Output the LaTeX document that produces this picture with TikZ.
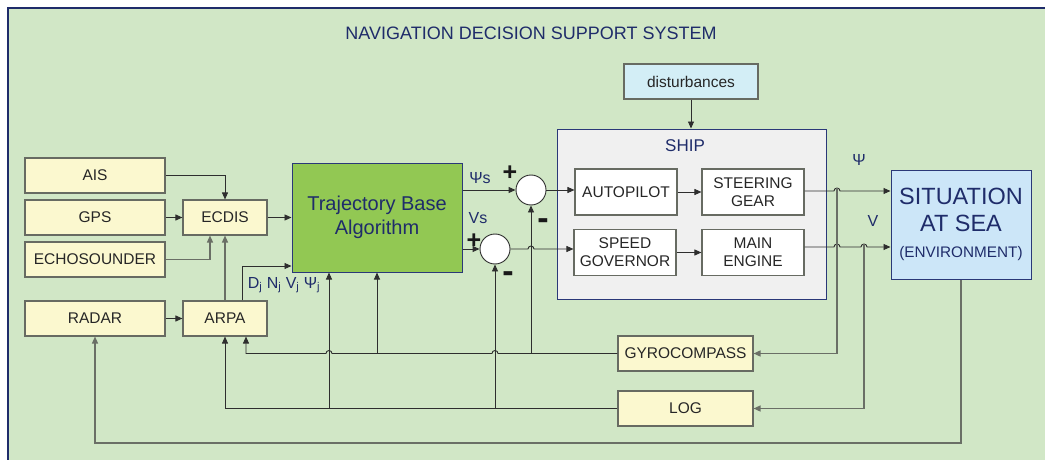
\documentclass[tikz,border=0pt]{standalone}
\usepackage{fontspec}
\setmainfont{Liberation Sans}
\usetikzlibrary{arrows.meta,calc}
\definecolor{bg}{HTML}{D1E7C6}
\definecolor{navy}{HTML}{1F2C6A}
\definecolor{navyline}{HTML}{2A3878}
\definecolor{yfill}{HTML}{FBF8CF}
\definecolor{gfill}{HTML}{92C853}
\definecolor{sfill}{HTML}{F0F0F0}
\definecolor{cfill}{HTML}{D3EEF6}
\definecolor{seafill}{HTML}{CCE6F8}
\definecolor{edgec}{HTML}{676B62}
\definecolor{wirec}{HTML}{2E2E2E}
\definecolor{fbc}{HTML}{6A6F66}
\begin{document}
\begin{tikzpicture}[x=1pt,y=-1pt,
  box/.style={draw=edgec,line width=1.1pt,inner sep=0pt,align=center,
    font=\fontsize{15.5}{18}\selectfont,text=black!85},
  yb/.style={box,fill=yfill},
  wb/.style={box,fill=white},
  navyedge/.style={draw=navyline,line width=1pt},
  wire/.style={draw=wirec,line width=0.9pt,-{Triangle[length=7pt,width=6pt]}},
  fb/.style={draw=fbc,line width=1.4pt,-{Triangle[length=7pt,width=6pt]}},
  lbl/.style={text=navy,inner sep=0pt,font=\fontsize{16}{18}\selectfont},
  sign/.style={text=black!90,inner sep=0pt,font=\fontsize{25}{25}\selectfont\bfseries},
  sumc/.style={circle,draw=wirec,fill=white,line width=0.9pt,minimum size=30pt,inner sep=0pt}]
\useasboundingbox (0,0) rectangle (1045,460);
\fill[white] (0,0) rectangle (1045,460);
\fill[bg] (8,8) rectangle (1045,460);
\draw[navy,line width=1.5pt] (8,460) -- (8,8) -- (1045,8);
\node[text=navy,font=\fontsize{18}{20}\selectfont] (title) at (531,33) {NAVIGATION DECISION SUPPORT SYSTEM};
% left boxes
\node[yb,minimum width=140pt,minimum height=35pt] (ais) at (95,175.5) {AIS};
\node[yb,minimum width=140pt,minimum height=35pt] (gps) at (95,217.5) {GPS};
\node[yb,minimum width=140pt,minimum height=35pt] (echo) at (95,259.5) {ECHOSOUNDER};
\node[yb,minimum width=140pt,minimum height=35pt] (radar) at (95,318.5) {RADAR};
\node[yb,minimum width=84pt,minimum height=35pt] (ecdis) at (225,217.5) {ECDIS};
\node[yb,minimum width=84pt,minimum height=35pt] (arpa) at (225,318.5) {ARPA};
\node[box,navyedge,fill=gfill,minimum width=170pt,minimum height=109pt,text=navy,
  font=\fontsize{20}{24}\selectfont] (traj) at (377,217.5) {Trajectory Base\\Algorithm};
% summing junctions
\node[sumc] (c1) at (531,190) {};
\node[sumc] (c2) at (495,249) {};
% ship
\node[navyedge,fill=sfill,minimum width=269pt,minimum height=170pt,inner sep=0pt] (ship) at (691.5,214) {};
\node[text=navy,font=\fontsize{17}{20}\selectfont,inner sep=0pt] (shipt) at (685,146) {SHIP};
\node[box,fill=cfill,minimum width=134pt,minimum height=35pt] (dist) at (691,81.5) {disturbances};
\node[wb,minimum width=102pt,minimum height=46pt] (ap) at (626,192) {AUTOPILOT};
\node[wb,minimum width=102pt,minimum height=46pt] (sgear) at (753,192) {STEERING\\GEAR};
\node[wb,minimum width=102pt,minimum height=46pt] (sg) at (625,252.5) {SPEED\\GOVERNOR};
\node[wb,minimum width=102pt,minimum height=46pt] (me) at (753,252.5) {MAIN\\ENGINE};
% situation
\node[box,navyedge,fill=seafill,minimum width=140pt,minimum height=109pt,text=navy,
  font=\fontsize{23.5}{27}\selectfont] (sit) at (961,224.5)
  {SITUATION\\AT SEA\\[-1pt]{\fontsize{15.3}{18}\selectfont (ENVIRONMENT)}};
% sensors
\node[yb,minimum width=135pt,minimum height=35pt] (gyro) at (685.5,353.5) {GYROCOMPASS};
\node[yb,minimum width=135pt,minimum height=35pt] (log) at (685.5,408.5) {LOG};
% labels
\node[lbl] (lpsis) at (480,178) {Ψs};
\node[lbl] (lvs) at (478,218) {Vs};
\node[lbl] (lpsi) at (859,160) {Ψ};
\node[lbl] (lv) at (873,221) {V};
\node[lbl] (ldn) at (284,285) {D\textsubscript{j} N\textsubscript{j} V\textsubscript{j} Ψ\textsubscript{j}};
\node[sign] (p1) at (510,173) {+};
\node[sign] (p2) at (474,241) {+};
\node[sign,font=\fontsize{34}{34}\selectfont\bfseries] (m1) at (543,224) {-};
\node[sign,font=\fontsize{34}{34}\selectfont\bfseries] (m2) at (508,277) {-};
% connectors left
\draw[wire] (ais.east) -| (ecdis.north);
\draw[wire] (gps.east) -- (ecdis.west);
\draw[fb] (echo.east) -| ([xshift=-15pt]ecdis.south);
\draw[fb] (arpa.north) -- (ecdis.south);
\draw[wire] ([xshift=17pt]arpa.north) |- (traj.west |- 0,266);
\draw[wire] (radar.east) -- (arpa.west);
\draw[wire] (ecdis.east) -- (ecdis.east -| traj.west);
\draw[wire] (traj.east |- c1) -- (c1.west);
\draw[wire] (traj.east |- c2) -- (c2.west);
\draw[wire] (c1.east) -- (c1 -| ap.west);
\draw[wire] (c2.east) -- (528,249) arc[start angle=180,end angle=0,radius=3pt] -- (c2 -| sg.west);
\draw[wire] (ap.east) -- (sgear.west);
\draw[wire] (sg.east) -- (me.west);
\draw[wire] (dist.south) -- (dist.south |- ship.north);
% outputs
\draw[wire] (sgear.east |- 0,191) -- (834,191) arc[start angle=180,end angle=0,radius=3pt]
  -- (sit.west |- 0,191);
\draw[wire] (me.east |- 0,247) -- (834,247) arc[start angle=180,end angle=0,radius=3pt]
  -- (861,247) arc[start angle=180,end angle=0,radius=3pt] -- (sit.west |- 0,247);
\draw[fb] (837,188) |- (gyro.east);
\draw[fb] (864,244) |- (log.east);
% feedback lines
\draw[wire] (gyro.west) -- (498,353.5) arc[start angle=0,end angle=180,radius=3pt]
  -- (332,353.5) arc[start angle=0,end angle=180,radius=3pt]
  -- (246,353.5) -- ([xshift=21pt]arpa.south);
\draw[wire] (377,353.5) -- (traj.south);
\draw[wire] (531,353.5) -- (c1.south);
\draw[wire] (log.west) -| (arpa.south);
\draw[wire] (329,408.5) -- ([xshift=-48pt]traj.south);
\draw[wire] (495,408.5) -- (c2.south);
\draw[fb] (sit.south) -- (961,443) -| (radar.south);
\end{tikzpicture}
\end{document}
